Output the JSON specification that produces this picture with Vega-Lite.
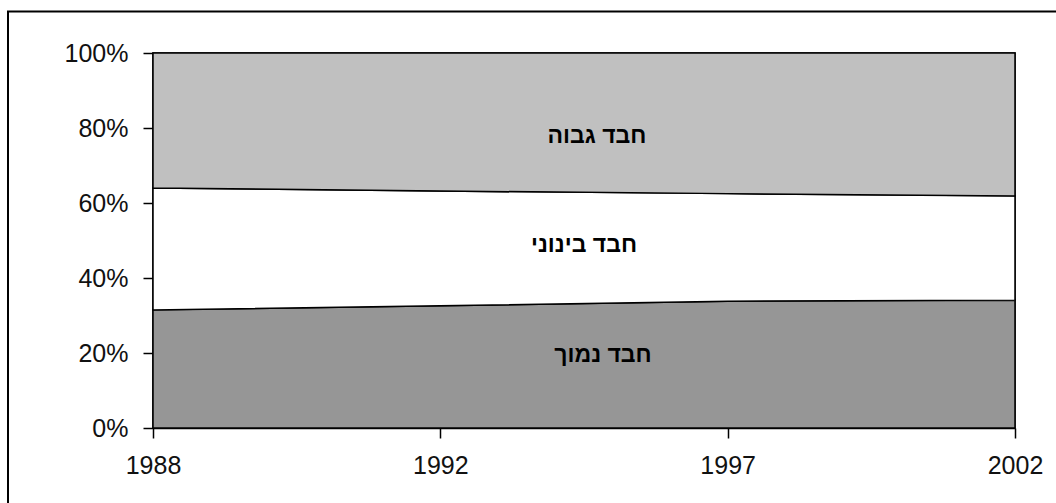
{
  "$schema": "https://vega.github.io/schema/vega-lite/v6.json",
  "autosize": "none",
  "width": 862,
  "height": 375,
  "padding": {"left": 153, "top": 53, "right": 41, "bottom": 75},
  "background": "white",
  "config": {
    "view": {"stroke": "black", "strokeWidth": 1.5},
    "font": "Liberation Sans",
    "axis": {
      "labelFont": "Liberation Sans",
      "labelFontSize": 25,
      "labelColor": "#111",
      "domainColor": "black",
      "tickColor": "black",
      "domainWidth": 1.5,
      "tickWidth": 1.5,
      "tickSize": 10,
      "grid": false,
      "title": null
    }
  },
  "layer": [
    {
      "data": {
        "values": [
          {"year": "1988", "series": "חבד נמוך", "order": 1, "value": 31.5},
          {"year": "1992", "series": "חבד נמוך", "order": 1, "value": 32.6},
          {"year": "1997", "series": "חבד נמוך", "order": 1, "value": 33.8},
          {"year": "2002", "series": "חבד נמוך", "order": 1, "value": 34.1},
          {"year": "1988", "series": "חבד בינוני", "order": 2, "value": 32.5},
          {"year": "1992", "series": "חבד בינוני", "order": 2, "value": 30.6},
          {"year": "1997", "series": "חבד בינוני", "order": 2, "value": 28.7},
          {"year": "2002", "series": "חבד בינוני", "order": 2, "value": 27.8},
          {"year": "1988", "series": "חבד גבוה", "order": 3, "value": 36.0},
          {"year": "1992", "series": "חבד גבוה", "order": 3, "value": 36.8},
          {"year": "1997", "series": "חבד גבוה", "order": 3, "value": 37.5},
          {"year": "2002", "series": "חבד גבוה", "order": 3, "value": 38.1}
        ]
      },
      "mark": {"type": "area", "stroke": "black", "strokeWidth": 1.5, "interpolate": "linear"},
      "encoding": {
        "x": {
          "field": "year",
          "type": "ordinal",
          "scale": {"type": "point", "padding": 0},
          "axis": {"labelAngle": 0, "labelPadding": 15}
        },
        "y": {
          "field": "value",
          "type": "quantitative",
          "stack": "normalize",
          "scale": {"domain": [0, 1], "nice": false},
          "axis": {"values": [0, 0.2, 0.4, 0.6, 0.8, 1], "format": ".0%", "labelPadding": 15}
        },
        "color": {
          "field": "series",
          "type": "nominal",
          "scale": {"domain": ["חבד נמוך", "חבד בינוני", "חבד גבוה"], "range": ["#969696", "#FFFFFF", "#C0C0C0"]},
          "legend": null
        },
        "order": {"field": "order", "type": "quantitative"}
      }
    },
    {
      "data": {
        "values": [
          {"label": "חבד גבוה", "lx": 0.515, "ly": 0.779},
          {"label": "חבד בינוני", "lx": 0.5, "ly": 0.488},
          {"label": "חבד נמוך", "lx": 0.522, "ly": 0.195}
        ]
      },
      "mark": {"type": "text", "font": "Liberation Sans", "fontSize": 23, "fontWeight": "bold", "color": "black", "align": "center", "baseline": "middle"},
      "encoding": {
        "x": {"field": "lx", "type": "quantitative", "scale": {"domain": [0, 1]}, "axis": null},
        "y": {"field": "ly", "type": "quantitative"},
        "text": {"field": "label"}
      }
    },
    {
      "data": {"values": [{}]},
      "mark": {"type": "rect", "fill": null, "stroke": "black", "strokeWidth": 2, "clip": false},
      "encoding": {
        "x": {"value": -145},
        "x2": {"value": 1000},
        "y": {"value": -41.5},
        "y2": {"value": 600}
      }
    }
  ],
  "resolve": {"scale": {"x": "independent"}}
}
